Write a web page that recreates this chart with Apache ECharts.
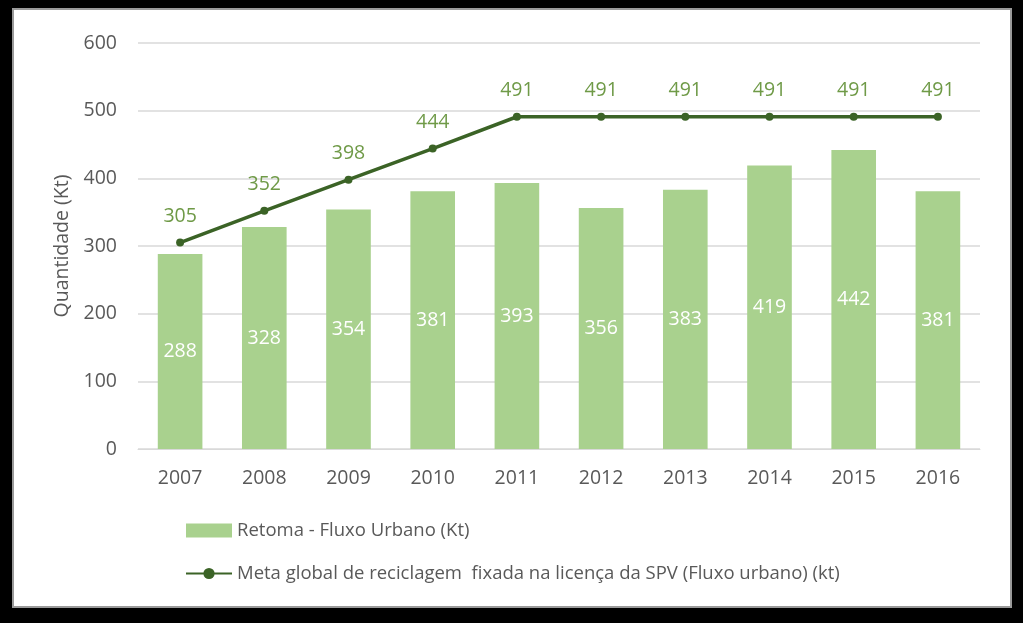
<!DOCTYPE html>
<html><head><meta charset="utf-8">
<script src="https://cdn.jsdelivr.net/npm/echarts@6/dist/echarts.min.js"></script>
<style>html,body{margin:0;padding:0;background:#000;}#c{width:1023px;height:623px;}</style>
</head><body><div id="c"></div>
<script>
const years = ['2007','2008','2009','2010','2011','2012','2013','2014','2015','2016'];
const retoma = [288,328,354,381,393,356,383,419,442,381];
const meta = [305,352,398,444,491,491,491,491,491,491];
const barName = 'Retoma - Fluxo Urbano (Kt)';
const lineName = 'Meta global de reciclagem  fixada na licença da SPV (Fluxo urbano) (kt)';
const yAxisName = 'Quantidade (Kt)';

const chart = echarts.init(document.getElementById('c'));
const font = 'Open Sans, Noto Sans, sans-serif';
chart.setOption({
  backgroundColor: '#000',
  animation: false,
  graphic: [{type:'rect', left:12, top:8, z:-10, shape:{width:998, height:598}, style:{fill:'#fff', stroke:'#9a9a9a', lineWidth:2}}],
  grid: {left:138, right:43, top:43, bottom:174},
  legend: {
    orient:'vertical', left:180, top:516, itemGap:24, itemWidth:46, itemHeight:14,
    textStyle:{color:'#595959', fontSize:18.5, fontFamily:font},
    data:[{name:barName, icon:'rect'}, {name:lineName}]
  },
  xAxis: {
    type:'category', data:years,
    axisLine:{lineStyle:{color:'#d9d9d9'}}, axisTick:{show:false},
    axisLabel:{color:'#595959', fontSize:19.5, fontFamily:font, margin:19}
  },
  yAxis: {
    type:'value', min:0, max:600, interval:100,
    name:yAxisName, nameLocation:'middle', nameGap:63, nameRotate:90,
    nameTextStyle:{color:'#595959', fontSize:19.5, fontFamily:font},
    axisLine:{show:false}, axisTick:{show:false},
    splitLine:{lineStyle:{color:'#d9d9d9', width:1.5}},
    axisLabel:{color:'#595959', fontSize:19.5, fontFamily:font, margin:21}
  },
  series: [
    {name:barName, type:'bar', data:retoma, barWidth:'53%', itemStyle:{color:'#a9d18e'},
     label:{show:true, position:'inside', color:'#fff', fontSize:19.5, fontFamily:font}},
    {name:lineName, type:'line', data:meta, symbol:'circle', symbolSize:8,
     lineStyle:{color:'#3b6326', width:3.5}, itemStyle:{color:'#3b6326'},
     label:{show:true, position:'top', distance:12, color:'#6f9a47', fontSize:19.5, fontFamily:font}}
  ]
});
</script></body></html>
